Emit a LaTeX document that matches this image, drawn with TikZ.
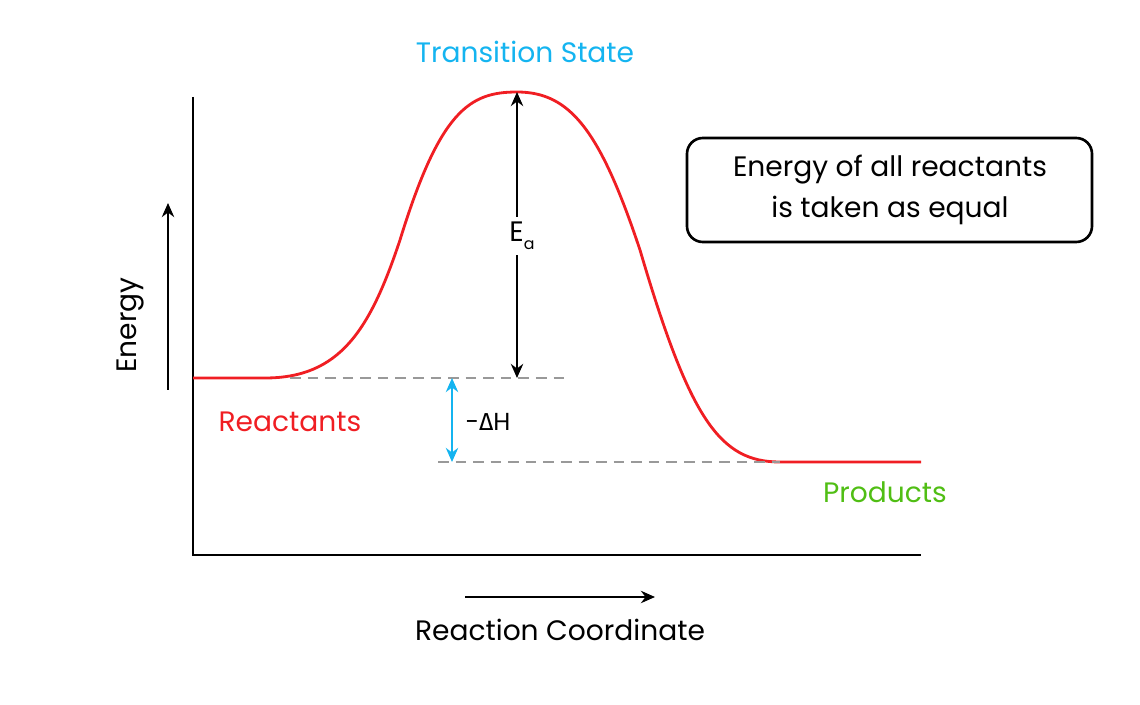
\documentclass[tikz,border=0pt]{standalone}
\usepackage{fontspec}
\setmainfont{Poppins}
\newfontfamily\gk{Fira Sans}
\usetikzlibrary{arrows.meta}
\definecolor{tsblue}{RGB}{20,180,240}
\definecolor{rred}{RGB}{240,30,35}
\definecolor{pgreen}{RGB}{80,190,20}
\begin{document}
\begin{tikzpicture}[x=0.02cm,y=-0.02cm,
  lbl/.style={font=\fontsize{16}{19}\selectfont,inner sep=0},
  arr/.style={-{Stealth[length=8pt,width=7pt]},line width=1.4pt},
  graydash/.style={gray!80,line width=1.2pt,dash pattern=on 6pt off 4pt}]
\useasboundingbox (0,0) rectangle (1140,705);
\draw[line width=1.6pt] (193,97) -- (193,555) -- (921,555);
\coordinate (e1) at (168,390); \coordinate (e2) at (168,203);
\draw[arr] (e1) -- (e2);
\node[lbl,rotate=90] (en) at (130,325) {Energy};
\coordinate (r1) at (465,597); \coordinate (r2) at (655,597);
\draw[arr] (r1) -- (r2);
\node[lbl] (rc) at (560,630) {Reaction Coordinate};
\draw[rred,line width=1.6pt] (193,378) -- (265,378) .. controls (340,378) and (370,330) .. (400,240)
 .. controls (440,110) and (470,92) .. (517,92) .. controls (570,92) and (600,130) .. (640,250)
 .. controls (690,420) and (720,462) .. (780,462) -- (921,462);
\coordinate (d1) at (290,378); \coordinate (d2) at (568,378);
\coordinate (d3) at (438,462); \coordinate (d4) at (780,462);
\draw[graydash] (d1) -- (d2);
\draw[graydash] (d3) -- (d4);
\coordinate (top) at (517,92); \coordinate (bot) at (517,378);
\draw[{Stealth[length=8pt,width=7pt]}-{Stealth[length=8pt,width=7pt]},line width=1.4pt] (top) -- (bot);
\node[lbl,fill=white,inner sep=3pt] (ea) at (522,236) {E\raisebox{-0.5ex}{\fontsize{9}{10}\selectfont a}};
\coordinate (h1) at (452,378); \coordinate (h2) at (452,462);
\draw[{Stealth[length=8pt,width=7pt]}-{Stealth[length=8pt,width=7pt]},line width=1.4pt,tsblue] (h1) -- (h2);
\node[lbl,font=\fontsize{14}{17}\selectfont] (dh) at (488,422) {-{\gk Δ}H};
\node[lbl,text=rred] (re) at (290,422) {Reactants};
\node[lbl,text=pgreen] (pr) at (885,492) {Products};
\node[lbl,text=tsblue] (ts) at (525,52) {Transition State};
\draw[line width=1.5pt,rounded corners=9pt] (687,138) rectangle (1092,242);
\node[lbl,align=center] (box) at (890,190) {Energy of all reactants\\[4pt]is taken as equal};
\end{tikzpicture}
\end{document}
